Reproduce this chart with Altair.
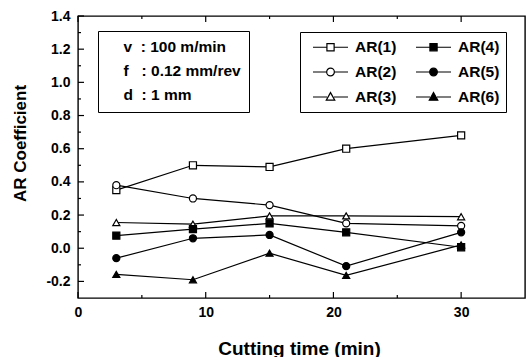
import altair as alt
import pandas as pd

# ---- data ----
times = [3, 9, 15, 21, 30]
series_names = ["AR(1)", "AR(2)", "AR(3)", "AR(4)", "AR(5)", "AR(6)"]
ar1 = [0.35, 0.50, 0.49, 0.60, 0.68]
ar2 = [0.38, 0.30, 0.26, 0.15, 0.135]
ar3 = [0.155, 0.145, 0.195, 0.195, 0.19]
ar4 = [0.076, 0.115, 0.15, 0.096, 0.006]
ar5 = [-0.06, 0.06, 0.08, -0.108, 0.096]
ar6 = [-0.158, -0.19, -0.03, -0.164, 0.02]
notes = ["v\u00a0\u00a0: 100 m/min", "f\u00a0\u00a0\u00a0: 0.12 mm/rev", "d\u00a0\u00a0: 1 mm"]
y_major = [-0.2, 0.0, 0.2, 0.4, 0.6, 0.8, 1.0, 1.2, 1.4]
y_minor = [-0.1, 0.1, 0.3, 0.5, 0.7, 0.9, 1.1, 1.3]
x_major = [0, 10, 20, 30]
x_minor = [5, 15, 25]

all_vals = [ar1, ar2, ar3, ar4, ar5, ar6]
df = pd.DataFrame({
    "time": times * len(series_names),
    "series": [s for s in series_names for _ in times],
    "value": [v for vals in all_vals for v in vals],
})

FONT = "Liberation Sans"
W, H = 447, 282

x_enc = alt.X(
    "time:Q",
    scale=alt.Scale(domain=[0, 35], nice=False, zero=False),
    axis=alt.Axis(values=x_major, format="d", labelPadding=7, labelFlush=False,
                  title="Cutting time (min)", titleFontSize=19,
                  titleX=221, titleY=56, titleBaseline="alphabetic",
                  titleAlign="center"),
)
y_enc = alt.Y(
    "value:Q",
    scale=alt.Scale(domain=[-0.3, 1.4], nice=False, zero=False),
    axis=alt.Axis(values=y_major, labelFlush=False,
                  labelExpr="replace(format(datum.value, '.1f'), '\u2212', '-')",
                  labelPadding=8, title="AR Coefficient", titleFontSize=17,
                  titleX=-58, titleY=127, titleAngle=270,
                  titleBaseline="middle", titleAlign="center"),
)

lines = alt.Chart(df).mark_line(color="black", strokeWidth=1.2).encode(
    x=x_enc, y=y_enc, detail="series:N"
)

points = alt.Chart(df).mark_point(stroke="black", strokeWidth=1.2, size=50, opacity=1).encode(
    x=x_enc, y=y_enc,
    shape=alt.Shape("series:N", scale=alt.Scale(
        domain=series_names,
        range=["square", "circle", "triangle-up", "square", "circle", "triangle-up"]),
        legend=None),
    fill=alt.Fill("series:N", scale=alt.Scale(
        domain=series_names,
        range=["white", "white", "white", "black", "black", "black"]),
        legend=None),
)

# legend-only layer (no marks drawn) with line+marker symbols (unit = 8 px)
line_part = "M-0.25,0H1.5M2.37,0H4.125"
sq = line_part + "M1.49,-0.45H2.39V0.45H1.49Z"
ci = line_part + "M2.42,0A0.48,0.48 0 1,1 1.46,0A0.48,0.48 0 1,1 2.42,0Z"
tr = line_part + "M1.94,-0.55L2.47,0.4H1.41Z"
legend_paths = [sq, ci, tr, sq, ci, tr]
legend_fills = ["white", "white", "white", "black", "black", "black"]
series_legend = alt.Legend(
    title=None, orient="none", legendX=222, legendY=16, columns=2,
    padding=6, fillColor="white", strokeColor="black",
    labelFont=FONT, labelFontSize=15.5, labelFontWeight="bold", labelColor="black",
    labelOffset=31, rowPadding=7, columnPadding=12,
    symbolSize=256, symbolStrokeWidth=1.2, symbolOpacity=1,
)
legend_layer = alt.Chart(df).transform_filter("false").mark_point(
    strokeWidth=1.2, opacity=1
).encode(
    shape=alt.Shape("series:N", scale=alt.Scale(domain=series_names, range=legend_paths),
                    legend=series_legend),
    fill=alt.Fill("series:N", scale=alt.Scale(domain=series_names, range=legend_fills),
                  legend=series_legend),
    stroke=alt.Stroke("series:N", scale=alt.Scale(domain=series_names, range=["black"] * 6),
                      legend=series_legend),
)

# text box with cutting conditions
note_layer = alt.Chart(df).transform_filter("false").mark_point().encode(
    color=alt.Color(
        "note:N", scale=alt.Scale(domain=notes, range=["white", "white", "white"]),
        legend=alt.Legend(
            title=None, orient="none", legendX=20, legendY=15, padding=8,
            fillColor="white", strokeColor="black",
            labelFont=FONT, labelFontSize=15.5, labelFontWeight="bold", labelColor="black",
            labelOffset=2, rowPadding=7, symbolSize=0, symbolOpacity=0,
            symbolStrokeWidth=0, symbolType="circle",
        ),
    )
)

# inward tick marks
y_major_df = pd.DataFrame({"value": y_major})
y_minor_df = pd.DataFrame({"value": y_minor})
x_major_df = pd.DataFrame({"time": x_major})
x_minor_df = pd.DataFrame({"time": x_minor})

ty_major = alt.Chart(y_major_df).mark_rule(color="black", strokeWidth=1.2).encode(
    y=y_enc, x=alt.value(0), x2=alt.value(6))
ty_minor = alt.Chart(y_minor_df).mark_rule(color="black", strokeWidth=1.2).encode(
    y=y_enc, x=alt.value(0), x2=alt.value(3))
tx_major_b = alt.Chart(x_major_df).mark_rule(color="black", strokeWidth=1.2).encode(
    x=x_enc, y=alt.value(H), y2=alt.value(H - 6))
tx_minor_b = alt.Chart(x_minor_df).mark_rule(color="black", strokeWidth=1.2).encode(
    x=x_enc, y=alt.value(H), y2=alt.value(H - 3))
tx_major_t = alt.Chart(x_major_df).mark_rule(color="black", strokeWidth=1.2).encode(
    x=x_enc, y=alt.value(0), y2=alt.value(6))
tx_minor_t = alt.Chart(x_minor_df).mark_rule(color="black", strokeWidth=1.2).encode(
    x=x_enc, y=alt.value(0), y2=alt.value(3))

chart = alt.layer(
    ty_major, ty_minor, tx_major_b, tx_minor_b, tx_major_t, tx_minor_t,
    lines, points, legend_layer, note_layer,
).resolve_scale(
    shape="independent", fill="independent", stroke="independent"
).properties(
    width=W, height=H,
    autosize=alt.AutoSizeParams(type="none"),
    padding={"left": 78, "top": 16, "right": 4, "bottom": 59},
    background="white",
).configure_view(
    stroke="black", strokeWidth=1.4
).configure_axis(
    domain=False, ticks=False, grid=False,
    labelFont=FONT, labelFontSize=14, labelFontWeight="bold", labelColor="black",
    titleFont=FONT, titleFontWeight="bold", titleColor="black",
)

chart.save("out.html", embed_options={"renderer": "svg", "actions": False})
